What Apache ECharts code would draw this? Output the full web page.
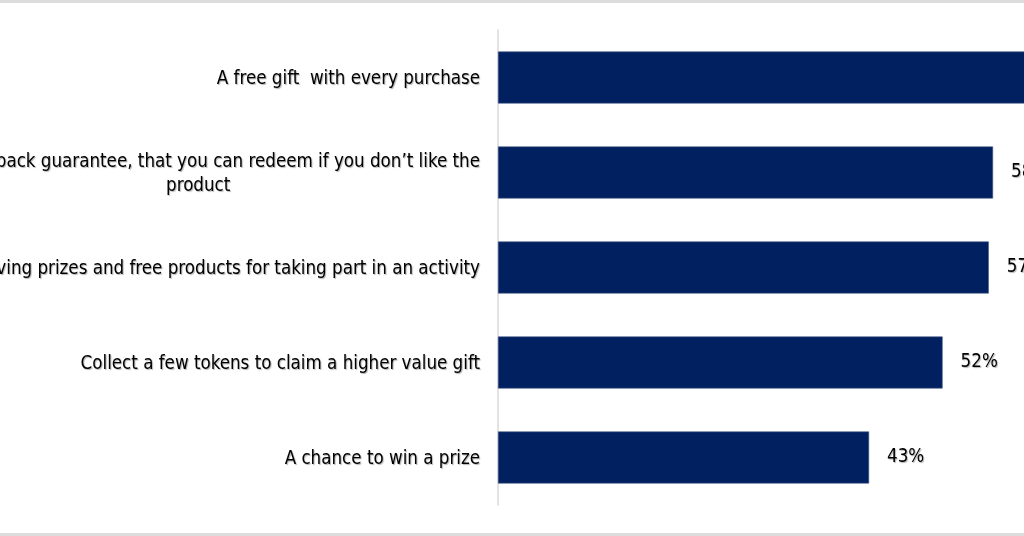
<!DOCTYPE html>
<html>
<head>
<meta charset="utf-8">
<script src="https://cdn.jsdelivr.net/npm/echarts@6/dist/echarts.min.js"></script>
<style>
	body { margin: 0; background: #fff; overflow: hidden; }
	#wrap { position: relative; width: 1024px; height: 530px; overflow: hidden;
		border-top: 3px solid #dcdcdc; border-bottom: 3px solid #dcdcdc; }
	#ct1 { position: absolute; left: -300px; top: 0; width: 1700px; height: 530px; }
</style>
</head>
<body>
<div id="wrap"><div id="ct1"></div></div>
<script>
// categories, top to bottom
var categories = [
	'A free gift  with every purchase',
	'A money back guarantee, that you can redeem if you don\u2019t like the\nproduct',
	'Receiving prizes and free products for taking part in an activity',
	'Collect a few tokens to claim a higher value gift',
	'A chance to win a prize'
];
// share of respondents, %
var values = [66, 57.9, 57.4, 52, 43.4];

var txtShadow = {
	textShadowColor: 'rgba(0,0,0,0.3)',
	textShadowBlur: 1,
	textShadowOffsetX: 1,
	textShadowOffsetY: 1
};
var fnt = 'DejaVu Sans Condensed';

var option1 = {
	animation: false,
	grid: { left: 798, right: 47, top: 27, bottom: 28, containLabel: false, outerBoundsMode: 'none' },
	xAxis: {
		type: 'value', min: 0, max: 100, show: false
	},
	yAxis: {
		type: 'category',
		inverse: true,
		data: categories,
		axisLine: { lineStyle: { color: '#d9d9d9', width: 1.5 } },
		axisTick: { show: false },
		axisLabel: Object.assign({
			margin: 18,
			color: '#000',
			fontFamily: fnt,
			fontSize: 18.6,
			lineHeight: 24,
			padding: [3, 0, 0, 0],
			formatter: function (v) {
				return v.split('\n').map(function (s) { return '{c|' + s + '}'; }).join('\n');
			},
			rich: {
				c: Object.assign({
					align: 'center',
					color: '#000',
					fontFamily: fnt,
					fontSize: 18.6,
					lineHeight: 24
				}, txtShadow)
			}
		}, txtShadow)
	},
	series: [{
		type: 'bar',
		data: values,
		barWidth: 52,
		itemStyle: { color: '#00205f', borderColor: '#3d5585', borderWidth: 0.6 },
		label: Object.assign({
			show: true,
			position: 'right',
			distance: 18,
			color: '#000',
			fontFamily: fnt,
			fontSize: 18.6,
			padding: [3, 0, 0, 0],
			formatter: function (p) { return Math.round(p.value) + '%'; }
		}, txtShadow)
	}]
};

var myChart1 = echarts.init(document.getElementById('ct1'));
myChart1.setOption(option1, true);
</script>
</body>
</html>
